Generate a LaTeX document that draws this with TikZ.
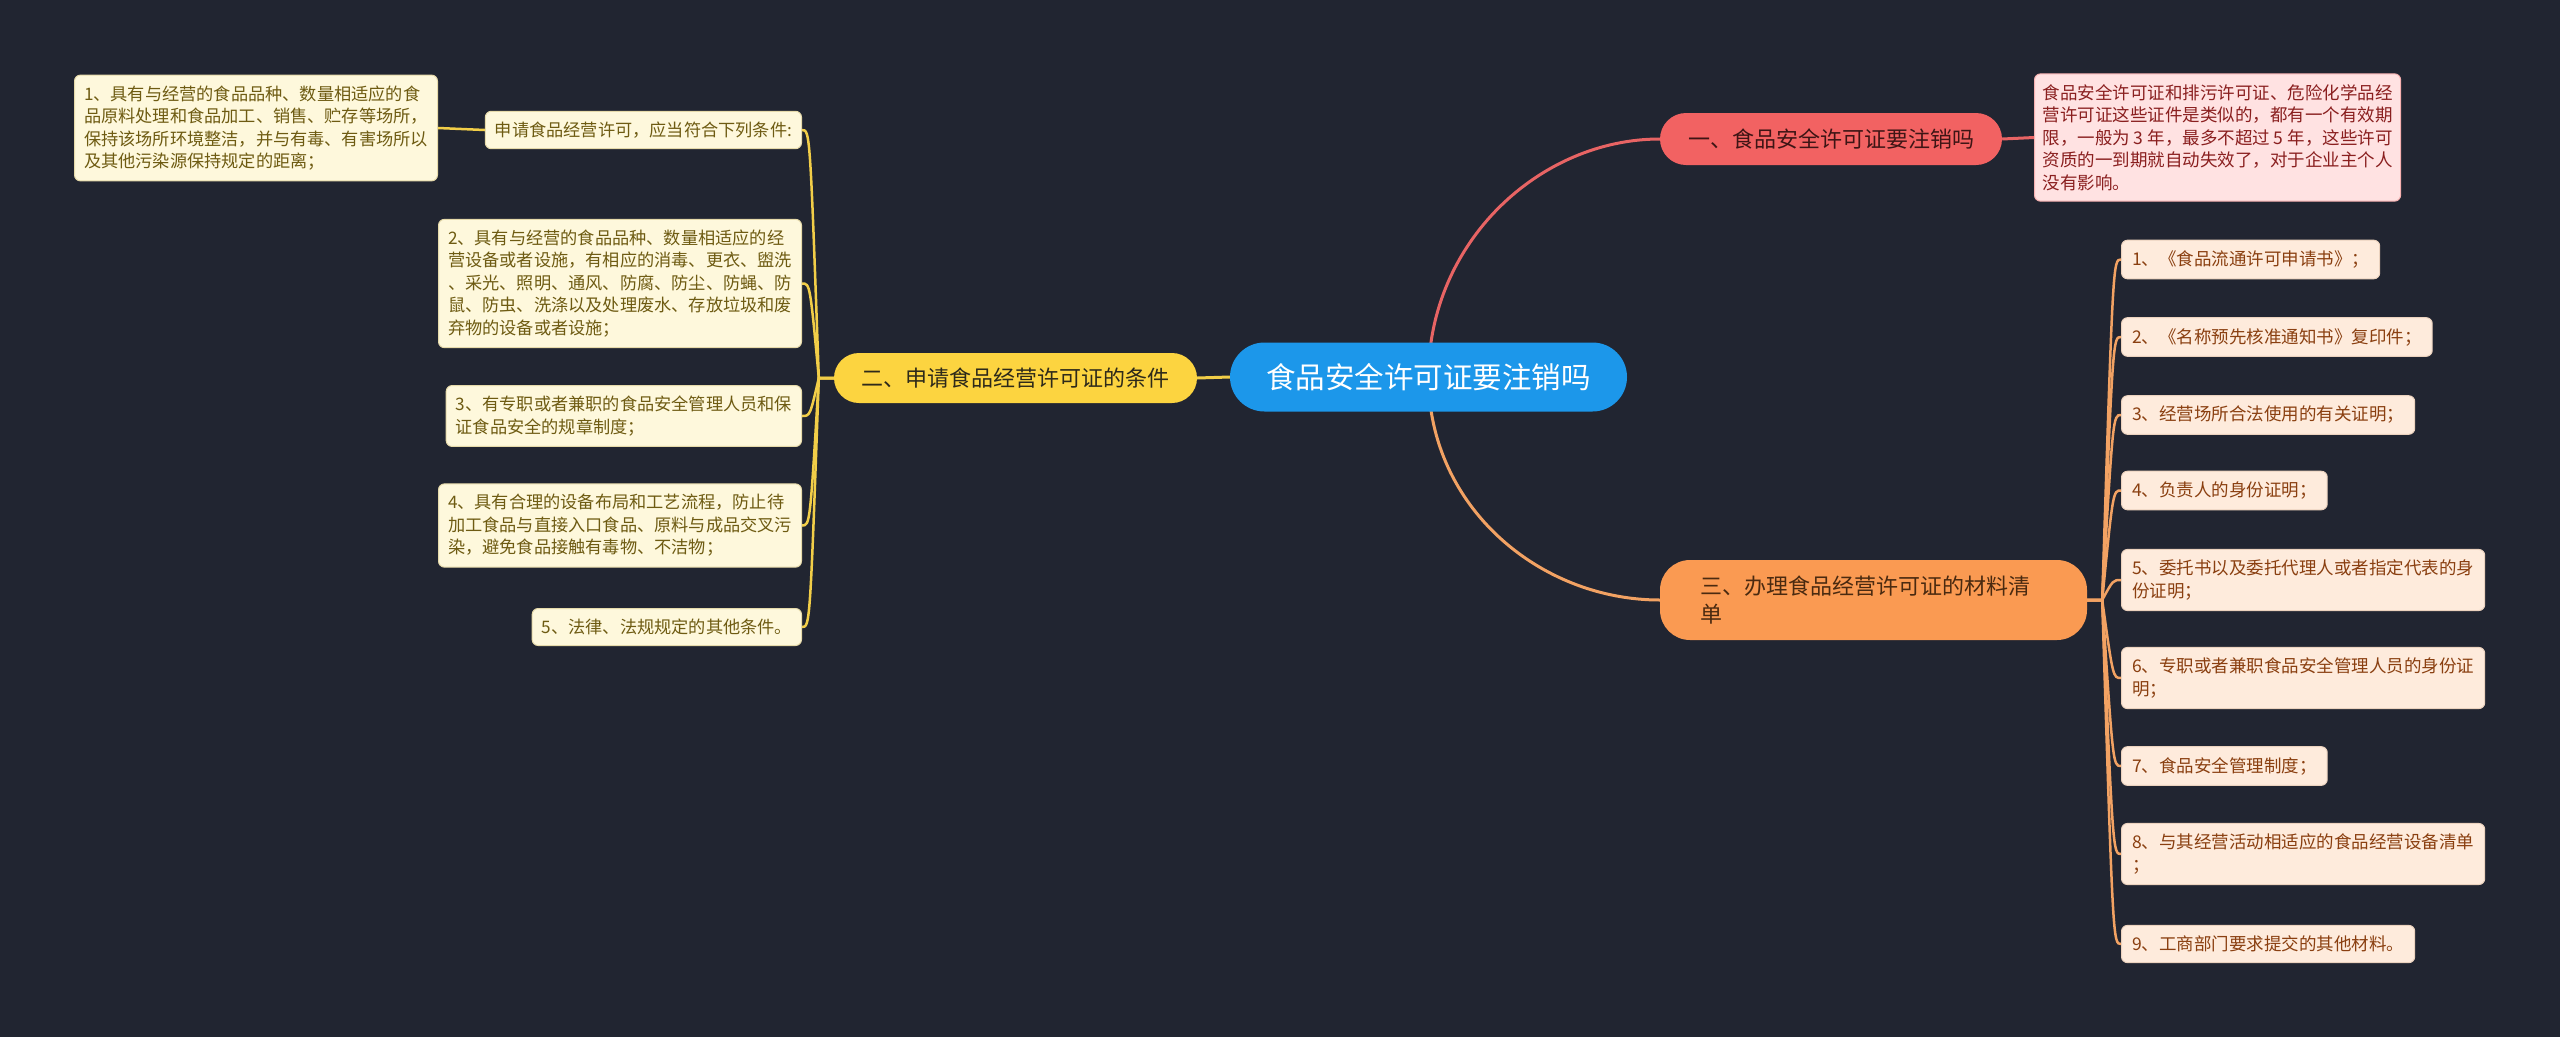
\documentclass[tikz,border=0pt]{standalone}
\usepackage{fontspec}
\setmainfont{Noto Sans CJK SC}
\usetikzlibrary{calc}
\definecolor{bgc}{HTML}{212531}
\definecolor{cBlue}{HTML}{1C97EA}
\definecolor{rNode}{HTML}{F26262}
\definecolor{rText}{HTML}{3E1515}
\definecolor{rLine}{HTML}{E86464}
\definecolor{rLeaf}{HTML}{FFE2E2}
\definecolor{rLeafT}{HTML}{8A1F1F}
\definecolor{yNode}{HTML}{FCD440}
\definecolor{yText}{HTML}{2E2A1A}
\definecolor{yLine}{HTML}{F2CE48}
\definecolor{yLeaf}{HTML}{FEF8DC}
\definecolor{yLeafT}{HTML}{6E5B12}
\definecolor{yLeafB}{HTML}{E6DAAA}
\definecolor{oNode}{HTML}{FA9A52}
\definecolor{oText}{HTML}{4A2A10}
\definecolor{oLine}{HTML}{F2A263}
\definecolor{oLeaf}{HTML}{FEEBDC}
\definecolor{oLeafT}{HTML}{8A3F10}
\definecolor{oLeafB}{HTML}{EBD2BE}
\newcommand\fsLeaf{\fontsize{17.5}{22.5}\selectfont}
\newcommand\fsLeafY{\fontsize{17.2}{22.5}\selectfont}
\newcommand\fsMain{\fontsize{22}{28}\selectfont}
\pgfdeclarelayer{back}
\pgfdeclarelayer{bottom}
\pgfsetlayers{bottom,back,main}
\tikzset{
  rootnode/.style={fill=cBlue, text=white, rounded corners=34.5pt, minimum width=397pt, minimum height=69pt, inner sep=0pt, font=\fontsize{29.5}{35}\selectfont},
  mainnode/.style={rounded corners=25pt, minimum height=50pt, inner sep=0pt, font=\fsMain},
  leafbox/.style={rounded corners=6pt, inner xsep=10.5pt, inner ysep=10.5pt, align=left, font=\fsLeaf, line width=1pt},
  yleaf/.style={leafbox, fill=yLeaf, draw=yLeafB, text=yLeafT, anchor=east, font=\fsLeafY, inner xsep=9.5pt},
  oleaf/.style={leafbox, fill=oLeaf, draw=oLeafB, text=oLeafT, anchor=west},
  rleaf/.style={leafbox, fill=rLeaf, draw=rLine!40!rLeaf, text=rLeafT, anchor=west, inner xsep=8pt},
  bigline/.style={line width=3pt},
  smallline/.style={line width=2.5pt},
}
\begin{document}
\begin{tikzpicture}[x=1pt,y=-1pt]
\begin{pgfonlayer}{bottom}
\fill[bgc] (0,0) rectangle (2560,1037);
\end{pgfonlayer}
\useasboundingbox (0,0) rectangle (2560,1037);

% root
\node[rootnode] (c) at (1428.5,377) {食品安全许可证要注销吗};

% main branches
\node[mainnode, fill=rNode, text=rText, minimum width=342pt, minimum height=52pt, rounded corners=26pt] (n1) at (1831,139) {一、食品安全许可证要注销吗};
\node[mainnode, fill=yNode, text=yText, minimum width=363pt] (n2) at (1015.5,378) {二、申请食品经营许可证的条件};
\node[mainnode, fill=oNode, text=oText, text width=347pt, inner xsep=40pt, align=left, minimum height=80pt, rounded corners=30pt] (n3) at (1873.5,600) {三、办理食品经营许可证的材料清\\单};

% red leaf
\node[rleaf] (d1) at (2034,137.5) {食品安全许可证和排污许可证、危险化学品经\\营许可证这些证件是类似的，都有一个有效期\\限，一般为 3 年，最多不超过 5 年，这些许可\\资质的一到期就自动失效了，对于企业主个人\\没有影响。};

% yellow leaves
\node[yleaf] (s) at (802,130) {申请食品经营许可，应当符合下列条件:};
\node[yleaf] (l1) at (438,128) {1、具有与经营的食品品种、数量相适应的食\\品原料处理和食品加工、销售、贮存等场所，\\保持该场所环境整洁，并与有毒、有害场所以\\及其他污染源保持规定的距离；};
\node[yleaf] (l2) at (802,283.5) {2、具有与经营的食品品种、数量相适应的经\\营设备或者设施，有相应的消毒、更衣、盥洗\\、采光、照明、通风、防腐、防尘、防蝇、防\\鼠、防虫、洗涤以及处理废水、存放垃圾和废\\弃物的设备或者设施；};
\node[yleaf] (l3) at (802,416) {3、有专职或者兼职的食品安全管理人员和保\\证食品安全的规章制度；};
\node[yleaf] (l4) at (802,525.5) {4、具有合理的设备布局和工艺流程，防止待\\加工食品与直接入口食品、原料与成品交叉污\\染，避免食品接触有毒物、不洁物；};
\node[yleaf] (l5) at (802,627) {5、法律、法规规定的其他条件。};

% orange leaves
\node[oleaf] (r1) at (2121,259.5) {1、《食品流通许可申请书》；};
\node[oleaf] (r2) at (2121,337) {2、《名称预先核准通知书》复印件；};
\node[oleaf] (r3) at (2121,415) {3、经营场所合法使用的有关证明；};
\node[oleaf] (r4) at (2121,490.5) {4、负责人的身份证明；};
\node[oleaf] (r5) at (2121,580) {5、委托书以及委托代理人或者指定代表的身\\份证明；};
\node[oleaf] (r6) at (2121,678) {6、专职或者兼职食品安全管理人员的身份证\\明；};
\node[oleaf] (r7) at (2121,766) {7、食品安全管理制度；};
\node[oleaf] (r8) at (2121,854) {8、与其经营活动相适应的食品经营设备清单\\；};
\node[oleaf] (r9) at (2121,944) {9、工商部门要求提交的其他材料。};

\begin{pgfonlayer}{back}
% root connectors
\draw[rLine, bigline] (c.center) .. controls ($(c.center)+(0,-135)$) and ($(n1.west)+(-120,0)$) .. (n1.west);
\draw[oLine, bigline] (c.center) .. controls ($(c.center)+(0,130)$) and ($(n3.west)+(-120,0)$) .. (n3.west);
\draw[yLine, bigline] (c.west) -- (n2.east);
% red
\draw[rLine, bigline] (n1.east) -- (d1.west);
% yellow children
\foreach \k in {s,l2,l3,l4,l5}{
  \draw[yLine, smallline] (n2.west) -- ++(-15,0) .. controls ($(\k.east)+(8,0)$) .. (\k.east);
}
\draw[yLine, smallline] (s.west) -- (l1.east);
% orange children
\foreach \k in {r1,r2,r3,r4,r5,r6,r7,r8,r9}{
  \draw[oLine, smallline] (n3.east) -- ++(15,0) .. controls ($(\k.west)+(-8,0)$) .. (\k.west);
}
\end{pgfonlayer}
\end{tikzpicture}
\end{document}
